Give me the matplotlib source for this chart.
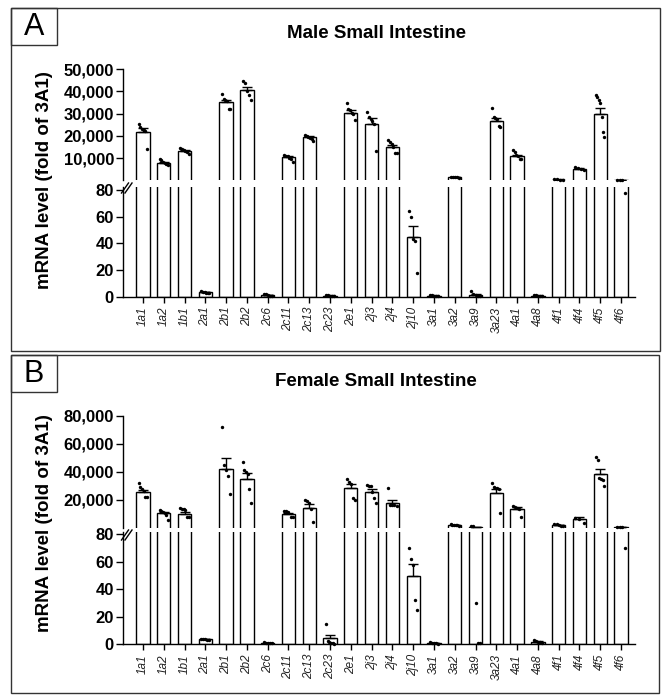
import matplotlib
matplotlib.use('Agg')
import matplotlib.pyplot as plt
import numpy as np
from matplotlib.patches import Rectangle
from matplotlib.lines import Line2D
from matplotlib.ticker import FuncFormatter

plt.rcParams['font.family'] = ['Liberation Sans', 'DejaVu Sans']

categories = ['1a1', '1a2', '1b1', '2a1', '2b1', '2b2', '2c6', '2c11', '2c13', '2c23',
              '2e1', '2j3', '2j4', '2j10', '3a1', '3a2', '3a9', '3a23', '4a1', '4a8',
              '4f1', '4f4', '4f5', '4f6']

male_means = [21800, 7900, 13100, 3.5, 35200, 40500, 1.5, 10500, 19500, 1.0,
              30500, 25400, 14800, 45, 1.0, 1400, 1.8, 26700, 10900, 1.0,
              300, 5100, 29800, 120]
male_points = [
    [25500, 24000, 23200, 22800, 22200, 14200],
    [9400, 9200, 8400, 7800, 7400, 6700],
    [14500, 14000, 13500, 13000, 12500, 11700],
    [4.5, 4.0, 3.6, 3.3, 3.0, 2.8],
    [39000, 36500, 36000, 35500, 32300, 32300],
    [44500, 44000, 40000, 38500, 36000],
    [2.5, 2.0, 1.5, 1.0, 0.8],
    [11500, 11000, 10800, 10200, 9500, 8300],
    [20500, 20000, 19500, 19000, 18500, 17800],
    [1.5, 1.2, 1.0, 0.8, 0.6],
    [35000, 32000, 31500, 30500, 30000, 27000],
    [30800, 28500, 27500, 26500, 25500, 13000],
    [18000, 17000, 16500, 15000, 12400, 12200],
    [64, 60, 43, 42, 18],
    [1.5, 1.2, 1.0, 0.8, 0.6],
    [1600, 1500, 1400, 1300, 1200],
    [4.5, 2.5, 1.5, 0.8, 0.5],
    [32500, 28500, 28000, 27500, 24500, 24000],
    [13500, 12500, 11500, 11000, 9700, 9700],
    [1.5, 1.3, 1.0, 0.8, 0.7],
    [450, 350, 300, 250],
    [5800, 5400, 5000, 4800],
    [38500, 37400, 36200, 34700, 28300, 21800, 19500],
    [150, 130, 120, 78],
]

female_means = [25500, 10300, 9800, 3.5, 42000, 35000, 1.0, 9500, 13800, 4.8,
                28200, 25500, 17400, 49.6, 1.0, 1900, 446, 24600, 13100, 2.0,
                1800, 6400, 38400, 400]
female_points = [
    [31700, 29000, 27500, 26500, 22000, 22000],
    [12600, 11800, 11000, 10200, 9000, 5500],
    [13800, 13500, 13000, 12500, 7900, 7900],
    [4.2, 4.0, 3.6, 3.3, 3.0],
    [72300, 44900, 41300, 37000, 23900],
    [47300, 41300, 40000, 38500, 27400, 17400],
    [1.6, 1.3, 1.0, 0.8, 0.6],
    [12200, 12000, 11500, 7900, 7500],
    [19800, 19000, 17500, 13000, 4300],
    [15, 2.5, 1.5, 1.0, 0.8, 0.5],
    [34600, 33000, 31500, 21000, 20000],
    [30500, 30000, 29500, 25500, 21500, 17400],
    [28200, 16500, 16200, 16000, 15500],
    [70, 62, 58, 32, 25],
    [1.5, 1.2, 1.0, 0.8, 0.5],
    [2300, 2100, 2000, 1800, 1700, 1500],
    [1200, 1000, 30, 1, 1],
    [32200, 29000, 28500, 28200, 27500, 10300],
    [15500, 14500, 14000, 13500, 7900],
    [3.0, 2.5, 2.0, 1.5, 1.0],
    [2700, 2500, 2000, 1500, 1200],
    [6800, 6500, 3100],
    [50800, 48400, 35300, 34600, 34100, 29800],
    [600, 500, 400, 70],
]

W, H = 664, 695
fig = plt.figure(figsize=(W / 100, H / 100), dpi=100)


def fx(px):
    return px / W


def fy(py):
    return 1 - py / H


LOW_TOP = 82
X_LEFT, X_RIGHT = 123, 635
XLIM = (-0.962, 23.674)
BAR_W = 0.64


def panel(means, points, up_top_px, up_bot_px, low_top_px, low_bot_px, up_max, up_ticks,
          title, letter, frame, title_y, ylab_y, brk):
    means = np.asarray(means, dtype=float)
    x = np.arange(len(categories))
    sem = np.array([np.std(p, ddof=1) / np.sqrt(len(p)) for p in points])
    big = means > LOW_TOP

    ax_up = fig.add_axes([fx(X_LEFT), fy(up_bot_px), fx(X_RIGHT) - fx(X_LEFT),
                          fy(up_top_px) - fy(up_bot_px)])
    ax_lo = fig.add_axes([fx(X_LEFT), fy(low_bot_px), fx(X_RIGHT) - fx(X_LEFT),
                          fy(low_top_px) - fy(low_bot_px)])

    # upper segment: only bars exceeding the break, base far below the clip edge
    base = -0.2 * up_max
    ax_up.bar(x[big], means[big] - base, bottom=base, width=BAR_W, facecolor='white',
              edgecolor='black', linewidth=1.0, zorder=2)
    ax_up.errorbar(x[big], means[big], yerr=[np.zeros(big.sum()), sem[big]], fmt='none',
                   ecolor='black', elinewidth=1.0, capsize=3.3, capthick=1.0, zorder=3)
    # lower segment: all bars, tall ones run off the top
    low_h = np.where(big, LOW_TOP * 3, means)
    ax_lo.bar(x, low_h, width=BAR_W, facecolor='white', edgecolor='black',
              linewidth=1.0, zorder=2)
    sm = ~big
    ax_lo.errorbar(x[sm], means[sm], yerr=[np.zeros(sm.sum()), sem[sm]], fmt='none',
                   ecolor='black', elinewidth=1.0, capsize=3.3, capthick=1.0, zorder=3)

    for ax, lo, hi in [(ax_up, LOW_TOP, up_max), (ax_lo, 0, LOW_TOP)]:
        ax.set_xlim(*XLIM)
        ax.set_ylim(lo, hi)
        for s in ['top', 'right']:
            ax.spines[s].set_visible(False)
        ax.spines['left'].set_linewidth(1.0)
        ax.tick_params(axis='y', length=5, width=1.0, pad=1.5, labelsize=12)
        ax.patch.set_alpha(0)

    # points
    for i, p in enumerate(points):
        p = np.asarray(p, dtype=float)
        n = len(p)
        offs = np.linspace(-0.2, 0.2, n) if n > 1 else np.zeros(1)
        hi_m = p > LOW_TOP
        ax_up.scatter(x[i] + offs[hi_m], p[hi_m], s=6, color='black', zorder=4,
                      clip_on=False, linewidths=0)
        ax_lo.scatter(x[i] + offs[~hi_m], p[~hi_m], s=6, color='black', zorder=4,
                      clip_on=False, linewidths=0)

    ax_up.spines['bottom'].set_visible(False)
    ax_up.set_xticks([])
    ax_up.set_yticks(up_ticks)
    ax_up.yaxis.set_major_formatter(FuncFormatter(lambda v, _: f"{int(v):,}"))
    for t in ax_up.get_yticklabels():
        t.set_fontweight('bold')

    ax_lo.set_yticks([0, 20, 40, 60, 80])
    for t in ax_lo.get_yticklabels():
        t.set_fontweight('bold')
    ax_lo.spines['bottom'].set_linewidth(1.0)
    ax_lo.set_xticks(x)
    ax_lo.set_xticklabels(categories, rotation=90, fontsize=8.5, fontstyle='italic',
                          color='#222222')
    ax_lo.tick_params(axis='x', length=4, width=1.0, pad=3)

    # break marks
    bx0, by0, bx1, by1 = brk
    for d in (0, 3.5):
        fig.add_artist(Line2D([fx(bx0 + d), fx(bx1 + d)], [fy(by0), fy(by1)],
                              color='black', lw=1.0))

    # frame and letter box
    fx0, fy0, fx1, fy1 = frame
    fig.add_artist(Rectangle((fx(fx0), fy(fy1)), fx(fx1) - fx(fx0), fy(fy0) - fy(fy1),
                             fill=False, edgecolor='#333333', lw=1.0))
    fig.add_artist(Rectangle((fx(fx0), fy(fy0 + 37)), fx(fx0 + 46) - fx(fx0),
                             fy(fy0) - fy(fy0 + 37), fill=False, edgecolor='#333333', lw=1.0))
    fig.text(fx(fx0 + 23), fy(fy0 + 19), letter, fontsize=22, ha='center', va='center')
    fig.text(fx(376), fy(title_y), title, fontsize=13.5, fontweight='bold',
             ha='center', va='center')
    fig.text(fx(45), fy(ylab_y), 'mRNA level (fold of 3A1)', fontsize=13.5,
             fontweight='bold', rotation=90, ha='center', va='center')


panel(male_means, male_points, 69.3, 180, 187.3, 297, 50000,
      [10000, 20000, 30000, 40000, 50000], 'Male Small Intestine', 'A',
      (11, 8, 660, 351), 34, 180, (121.5, 193, 128.5, 183))
panel(female_means, female_points, 416, 527.5, 531.5, 644.3, 80000,
      [20000, 40000, 60000, 80000], 'Female Small Intestine', 'B',
      (11, 355, 659, 693), 382, 523, (121.5, 540, 128.5, 530))

fig.savefig('out.png', dpi=100)
